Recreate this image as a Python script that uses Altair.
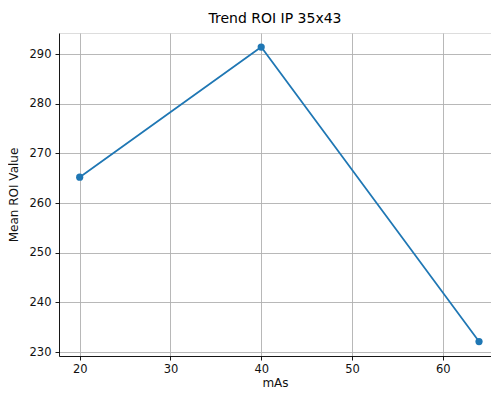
import altair as alt
import pandas as pd

mas = [20, 40, 64]
mean_roi = [265.2, 291.4, 232.1]

df = pd.DataFrame({"mAs": mas, "Mean ROI Value": mean_roi})

xs = alt.Scale(domain=[17.72, 65.32], nice=False, zero=False)
ys = alt.Scale(domain=[229.2, 294.23], nice=False, zero=False)

common = dict(grid=True, gridColor="#b0b0b0", gridWidth=0.9, tickColor="black", tickSize=4,
              tickWidth=0.9, domainColor="black", domainWidth=0.9,
              labelFont="DejaVu Sans", labelFontSize=11.5, labelColor="#111",
              titleFont="DejaVu Sans", titleFontSize=12, titleFontWeight="normal",
              titleColor="#111")
xax = alt.Axis(values=[20, 30, 40, 50, 60], title="mAs", labelPadding=3,
               titleY=33, titleBaseline="bottom", **common)
yax = alt.Axis(values=[230, 240, 250, 260, 270, 280, 290], title="Mean ROI Value",
               labelPadding=4, titlePadding=9, **common)

base = alt.Chart(df).encode(
    x=alt.X("mAs:Q", scale=xs, axis=xax),
    y=alt.Y("Mean ROI Value:Q", scale=ys, axis=yax),
)
line = base.mark_line(color="#1f77b4", strokeWidth=1.75)
pts = base.mark_circle(color="#1f77b4", size=52, opacity=1)

chart = (line + pts).properties(
    width=432, height=323,
    title=alt.TitleParams("Trend ROI IP 35x43", font="DejaVu Sans", fontSize=14,
                          fontWeight="normal", color="black", anchor="middle", offset=7),
    autosize=alt.AutoSizeParams(type="none"),
    padding={"left": 51, "top": 25, "right": 0, "bottom": 34},
).configure_view(stroke="black", strokeWidth=0.9).configure(background="white")

chart.save("out.html", embed_options={"renderer": "svg", "actions": False})
